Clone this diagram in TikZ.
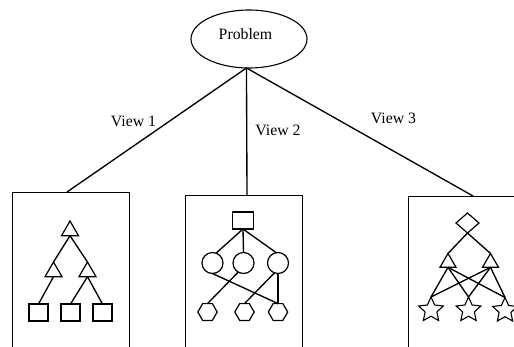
\documentclass[tikz,border=0pt]{standalone}
\usepackage{fontspec}
\setmainfont{Liberation Serif}
\usetikzlibrary{shapes.geometric}
\begin{document}
\begin{tikzpicture}[x=1pt,y=-1pt,
  every node/.style={inner sep=0pt, outer sep=0pt},
  lbl/.style={font=\fontsize{15.8}{19}\selectfont},
  vbox/.style={draw, line width=1pt, minimum width=117pt, minimum height=168pt, anchor=north},
  conn/.style={line width=1.35pt},
  tri/.style={draw, line width=1.2pt, regular polygon, regular polygon sides=3, minimum size=19.6pt},
  sqn/.style={draw, line width=1.2pt, rectangle, minimum width=19pt, minimum height=17pt},
  circn/.style={draw, line width=1.2pt, circle, minimum size=21pt},
  hexn/.style={draw, line width=1.2pt, regular polygon, regular polygon sides=6, minimum size=19.4pt},
  dian/.style={draw, line width=1.2pt, diamond, minimum width=23pt, minimum height=20pt},
  stn/.style={draw, line width=1.1pt, star, star points=5, star point ratio=2.1, minimum size=26pt}
]
\useasboundingbox (0,0) rectangle (514,346);
\clip (0,0) rectangle (514,346);

% problem
\node[draw, line width=1.1pt, ellipse, minimum width=116pt, minimum height=58pt] (P) at (249,39) {};
\node[lbl] (Pt) at (245.5,34) {Problem};

% boxes
\node[vbox] (B1) at (70.5,192) {};
\node[vbox] (B2) at (243.5,195) {};
\node[vbox] (B3) at (466.5,196) {};

\coordinate (e1) at ([xshift=-3.5pt]B1.north);
\coordinate (e2) at ([xshift=3.5pt]B2.north);
\coordinate (e3) at ([xshift=6.5pt]B3.north);

\draw[conn] (P.265) -- (e1);
\draw[conn] (P.265) -- (e2);
\draw[conn] (P.265) -- (e3);

\node[lbl] (v1) at (133.5,121) {View 1};
\node[lbl] (v2) at (278,130.5) {View 2};
\node[lbl] (v3) at (393.5,118.5) {View 3};

% box 1: triangles and squares
\node[tri] (a1) at (70,230.8) {};
\node[tri] (a2) at (53.5,271.8) {};
\node[tri] (a3) at (87.5,271.8) {};
\node[sqn] (s1) at (38.5,312.5) {};
\node[sqn] (s2) at (70.5,312.5) {};
\node[sqn] (s3) at (102.5,312.5) {};
\draw[conn] (a1.side 2) -- (a2.corner 1);
\draw[conn] (a1.side 2) -- (a3.corner 1);
\draw[conn] (a2.side 2) -- (s1.north);
\draw[conn] (a3.side 2) -- (s2.north);
\draw[conn] (a3.side 2) -- (s3.north);

% box 2: square, circles, hexagons
\node[sqn, minimum width=21pt] (q) at (243,220.5) {};
\node[circn] (c1) at (212.5,263) {};
\node[circn] (c2) at (243.5,263) {};
\node[circn] (c3) at (278,263) {};
\node[hexn] (h1) at (207.5,312) {};
\node[hexn] (h2) at (244.5,312) {};
\node[hexn] (h3) at (278,312) {};
\draw[conn] (q.south) -- (c1.70);
\draw[conn] (q.south) -- (c2.north);
\draw[conn] (q.south) -- (c3.100);
\draw[conn] (c2.240) -- (h1.north);
\draw[conn] (c1.south) -- (h3.north);
\draw[conn] (c3.250) -- (h2.north);
\draw[conn] (c3.south) -- (h3.north);

% box 3: diamond, triangles, stars
\node[dian] (d) at (467.5,223) {};
\node[tri, minimum size=18.5pt] (t1) at (448,262.7) {};
\node[tri, minimum size=18.5pt] (t2) at (490.5,262.7) {};
\node[stn] (st1) at (431,310) {};
\node[stn] (st2) at (468.5,310) {};
\node[stn] (st3) at (505,310.5) {};
\draw[conn] (d.south) -- (t1.corner 1);
\draw[conn] (d.south) -- (t2.corner 1);
\draw[conn] (t1.side 2) -- (st1.north);
\draw[conn] (t1.side 2) -- (st2.north);
\draw[conn] (t1.side 2) -- (st3.north);
\draw[conn] (t2.side 2) -- (st1.north);
\draw[conn] (t2.side 2) -- (st2.north);
\draw[conn] (t2.side 2) -- (st3.north);
\end{tikzpicture}
\end{document}
